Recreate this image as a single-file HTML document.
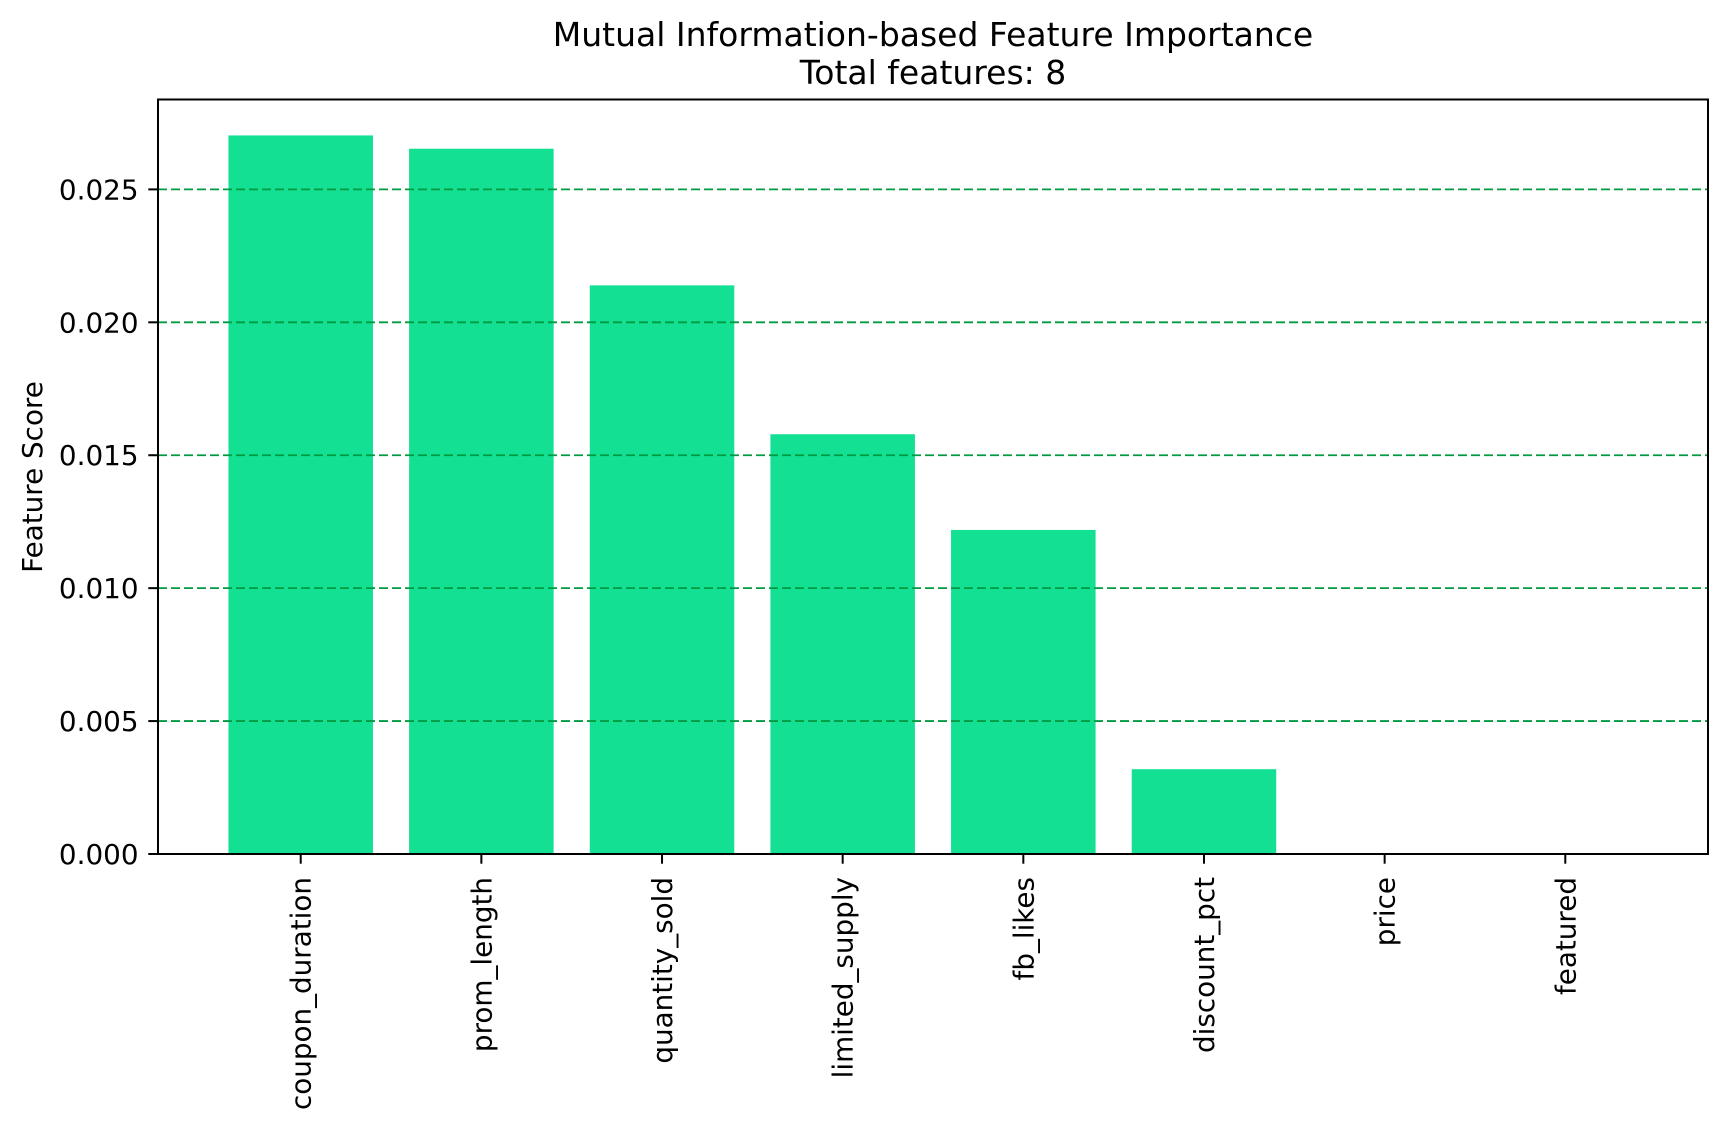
<!DOCTYPE html>
<html><head><meta charset="utf-8"><style>
html,body{margin:0;padding:0;background:#fff;}
svg{display:block;font-family:"DejaVu Sans","Liberation Sans",sans-serif;}
</style></head><body>
<svg id="chart" width="1728" height="1127" viewBox="0 0 1728 1127" xmlns="http://www.w3.org/2000/svg">
<rect width="1728" height="1127" fill="#fff"/>
<text x="933" y="46" font-size="33" text-anchor="middle">Mutual Information-based Feature Importance</text>
<text x="933" y="84" font-size="33" text-anchor="middle">Total features: 8</text>
<text transform="translate(42,477) rotate(-90)" font-size="27.8" text-anchor="middle">Feature Score</text>
<g id="bars"></g><g id="grid"></g><g id="axes"></g>
</svg>
<script>
const categories = ["coupon_duration","prom_length","quantity_sold","limited_supply","fb_likes","discount_pct","price","featured"];
const scores = [0.02703,0.02653,0.02139,0.01579,0.01219,0.00319,0,0];
const yTicks = [0,0.005,0.010,0.015,0.020,0.025];
const yTickLabels = ["0.000","0.005","0.010","0.015","0.020","0.025"];

const NS="http://www.w3.org/2000/svg";
const L=158,R=1708,T=99.5,B=854;
const xmin=-0.79,xmax=categories.length-1+0.79;
const ymax=Math.max(...scores)*1.05;
function xs(i){return L+(i-xmin)/(xmax-xmin)*(R-L);}
function ys(v){return B-v/ymax*(B-T);}
function mk(tag,attrs,parent){const e=document.createElementNS(NS,tag);for(const k in attrs)e.setAttribute(k,attrs[k]);parent.appendChild(e);return e;}
const bars=document.getElementById('bars'),grid=document.getElementById('grid'),axes=document.getElementById('axes');
const bw=0.8*(xs(1)-xs(0));
categories.forEach((c,i)=>{
  const y=ys(scores[i]);
  const r=mk('rect',{x:xs(i)-bw/2,y:y,width:bw,height:B-y,fill:'#13e092'},bars);
  
  
  const t=mk('line',{x1:xs(i),x2:xs(i),y1:B,y2:B+9.7,stroke:'#000','stroke-width':2},axes);
  
  
  const lb=mk('text',{transform:`translate(${xs(i)+10},${B+23}) rotate(-90)`,'font-size':27.8,'text-anchor':'end'},axes);
  lb.textContent=c;
  
  
});
yTicks.forEach((v,i)=>{
  const y=ys(v);
  if(v>0){
    const g=mk('line',{x1:L,x2:R,y1:y,y2:y,stroke:'#009a40','stroke-width':1.8,'stroke-dasharray':'9,4'},grid);
    
    
  }
  const t=mk('line',{x1:L-9.7,x2:L,y1:y,y2:y,stroke:'#000','stroke-width':2},axes);
  
  
  const lb=mk('text',{x:L-19.5,y:y+10,'font-size':27.8,'text-anchor':'end'},axes);
  lb.textContent=yTickLabels[i];
  
  
});
const fr=mk('rect',{x:L,y:T,width:R-L,height:B-T,fill:'none',stroke:'#000','stroke-width':2},axes);


</script>
</body></html>
